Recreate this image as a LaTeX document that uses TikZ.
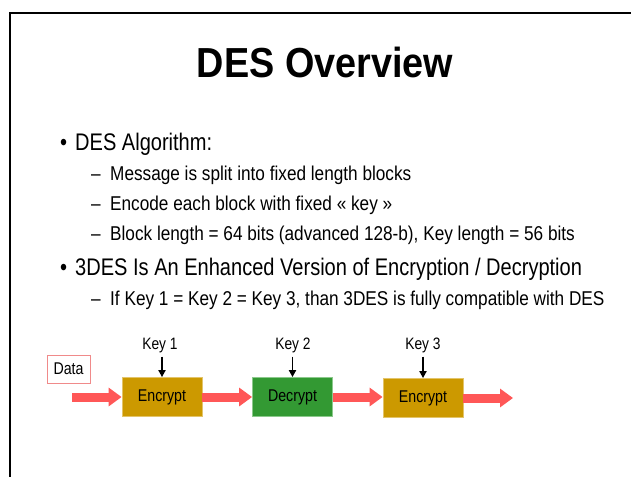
\documentclass[tikz,border=0pt]{standalone}
\usepackage{fontspec}
\setmainfont{Liberation Sans}
\newfontfamily\narrowfont[FakeStretch=0.835]{Liberation Sans}
\newfontfamily\subfont[FakeStretch=0.86]{Liberation Sans}
\newfontfamily\headfont[FakeStretch=0.9]{Liberation Sans}
\usetikzlibrary{arrows.meta}
\definecolor{goldbox}{HTML}{CC9900}
\definecolor{goldedge}{HTML}{E3C46A}
\definecolor{greenbox}{HTML}{339933}
\definecolor{greenedge}{HTML}{8CC98C}
\definecolor{flowred}{HTML}{FF5757}
\definecolor{dataedge}{HTML}{F08A8A}
\tikzset{
  lvlone/.style={anchor=base west, inner sep=0pt, font=\narrowfont\fontsize{24}{28}\selectfont},
  lvltwo/.style={anchor=base west, inner sep=0pt, font=\subfont\fontsize{20}{24}\selectfont},
  stage/.style={draw, line width=0.8pt, minimum width=80pt, minimum height=39pt, inner sep=0pt,
    font=\narrowfont\fontsize{17}{20}\selectfont},
  enc/.style={stage, fill=goldbox, draw=goldedge},
  dec/.style={stage, fill=greenbox, draw=greenedge},
  keylabel/.style={inner sep=0pt, font=\narrowfont\fontsize{16.5}{20}\selectfont},
  keyarrow/.style={line width=1.8pt, -{Triangle[length=7pt,width=7pt]}},
  flow/.style={line width=9pt, flowred, -{Triangle[length=13pt,width=18pt]}},
}
\begin{document}
\begin{tikzpicture}[x=1pt, y=-1pt]
  \useasboundingbox (0,0) rectangle (631,476);
  \clip (0,0) rectangle (631,476);
  \fill[white] (0,0) rectangle (631,476);
  % slide frame
  \draw[line width=2pt] (10,480) -- (10,13) -- (640,13);

  % title
  \node[inner sep=0pt, anchor=base, font=\headfont\bfseries\fontsize{42}{48}\selectfont] (title) at (325,78) {DES Overview};

  % bullet list
  \node[lvlone] (bA) at (60,150) {\textbullet};
  \node[lvlone] (tA) at (75,150) {DES Algorithm:};
  \node[lvltwo] (dA1) at (91,180) {–};
  \node[lvltwo] (tA1) at (110,180) {Message is split into fixed length blocks};
  \node[lvltwo] (dA2) at (91,210) {–};
  \node[lvltwo] (tA2) at (110,210) {Encode each block with fixed « key »};
  \node[lvltwo] (dA3) at (91,240) {–};
  \node[lvltwo] (tA3) at (110,240) {Block length = 64 bits (advanced 128-b), Key length = 56 bits};
  \node[lvlone] (bB) at (60,275) {\textbullet};
  \node[lvlone] (tB) at (75,275) {3DES Is An Enhanced Version of Encryption / Decryption};
  \node[lvltwo] (dB1) at (91,305) {–};
  \node[lvltwo] (tB1) at (110,305) {If Key 1 = Key 2 = Key 3, than 3DES is fully compatible with DES};

  % 3DES pipeline
  \node[draw=dataedge, line width=0.9pt, minimum width=43pt, minimum height=28pt, inner sep=0pt,
        font=\narrowfont\fontsize{17}{20}\selectfont] (data) at (68.5,369) {Data};
  \node[enc] (e1) at (162,397) {Encrypt};
  \node[dec] (d2) at (292.5,397) {Decrypt};
  \node[enc] (e3) at (423,398) {Encrypt};

  \node[keylabel, anchor=base] (k1) at (160,349) {Key 1};
  \node[keylabel, anchor=base] (k2) at (293,349) {Key 2};
  \node[keylabel, anchor=base] (k3) at (423,349) {Key 3};

  \draw[keyarrow] ([yshift=-4pt]k1.south -| e1.north) -- (e1.north);
  \draw[keyarrow] ([yshift=-4pt]k2.south -| d2.north) -- (d2.north);
  \draw[keyarrow] ([yshift=-4pt]k3.south -| e3.north) -- (e3.north);

  \coordinate (src) at (72,397);
  \coordinate (sink) at (513,398);
  \draw[flow] (src) -- (e1.west);
  \draw[flow] (e1.east) -- (d2.west);
  \draw[flow] (d2.east) -- (d2.east -| e3.west);
  \draw[flow] (e3.east) -- (sink);
\end{tikzpicture}
\end{document}
